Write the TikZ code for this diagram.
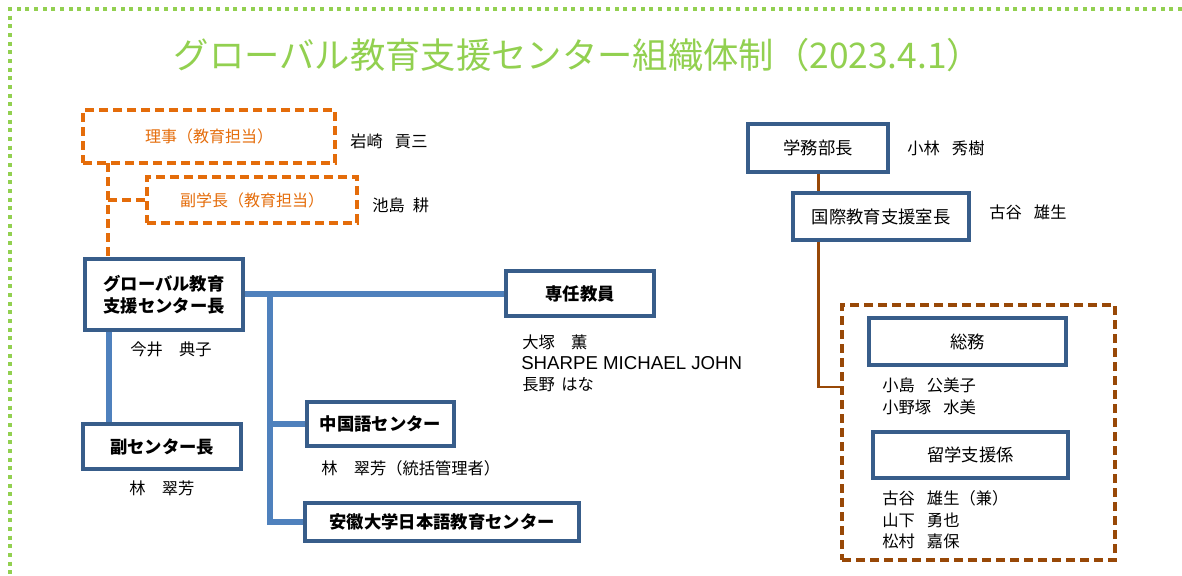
\documentclass[tikz,border=0pt]{standalone}
\usepackage{fontspec}
\setmainfont{Noto Sans CJK JP}
\newfontfamily\latinsans{Liberation Sans}
\definecolor{boxblue}{RGB}{56,93,138}
\definecolor{lineblue}{RGB}{79,129,189}
\definecolor{orng}{RGB}{228,108,10}
\definecolor{brwn}{RGB}{152,72,7}
\definecolor{grn}{RGB}{146,208,80}
\newcommand{\gap}{\hspace{0.75em}}
\tikzset{
  box/.style={draw=boxblue, line width=2.4pt, fill=white, inner sep=0pt, align=center, font=\fontsize{13}{16}\selectfont},
  bbox/.style={box, font=\fontsize{13}{16.5}\selectfont\bfseries},
  obox/.style={draw=orng, line width=2.6pt, dash pattern=on 6.5pt off 4pt, text=orng, inner sep=0pt, font=\fontsize{12}{15}\selectfont},
  dbox/.style={draw=brwn, line width=2.6pt, dash pattern=on 6.5pt off 4pt, inner sep=0pt},
  person/.style={anchor=west, inner sep=0pt, font=\fontsize{12.2}{16}\selectfont},
  conn/.style={draw=lineblue, line width=3.8pt},
  oconn/.style={draw=orng, line width=2.3pt, dash pattern=on 6.5pt off 4pt},
  bconn/.style={draw=brwn, line width=2pt},
  frame/.style={draw=grn, line width=3pt, dash pattern=on 3pt off 3.5pt}
}
\begin{document}
\begin{tikzpicture}[x=0.75pt,y=-0.75pt]
\useasboundingbox (0,0) rectangle (1182,575);
% frame
\coordinate (fr1) at (1182,9);
\coordinate (fr2) at (10,9);
\coordinate (fr3) at (10,575);
\draw[frame] (fr1) -- (fr2) -- (fr3);
% title
\node[text=grn, font=\fontsize{26.5}{31}\selectfont, inner sep=0pt] (title) at (578,55) {グローバル教育支援センター組織体制（2023.4.1）};
% orange boxes
\node[obox, minimum width=189pt, minimum height=39.75pt] (riji) at (209,136.5) {理事（教育担当）};
\node[obox, minimum width=157.5pt, minimum height=34.5pt] (fuku) at (252,200) {副学長（教育担当）};
\node[person] (n1) at (350,141) {岩崎\gap 貢三};
\node[person] (n2) at (372,205) {池島\hspace{0.5em}耕};
% main
\node[bbox, minimum width=118.5pt, minimum height=53.25pt] (glob) at (164,294.5) {グローバル教育\\支援センター長};
\node[person] (n3) at (130,349) {今井　典子};
\node[bbox, minimum width=118.5pt, minimum height=33.75pt] (fukuc) at (162,446.5) {副センター長};
\node[person] (n4) at (129,488) {林　翠芳};
\node[bbox, minimum width=111pt, minimum height=33.75pt] (senin) at (580,293.5) {専任教員};
\node[person] (n5) at (522,342) {大塚　薫};
\node[person, font=\fontsize{14}{16}\latinsans] (n6) at (521,363) {SHARPE MICHAEL JOHN};
\node[person] (n7) at (522,385) {長野\hspace{0.4em}はな};
\node[bbox, minimum width=110.25pt, minimum height=33pt] (chu) at (380.5,424) {中国語センター};
\node[person] (n8) at (321,468) {林　翠芳（統括管理者）};
\node[bbox, minimum width=205.5pt, minimum height=28.5pt] (anki) at (442,522) {安徽大学日本語教育センター};
% right side
\node[box, minimum width=105pt, minimum height=36pt] (gakumu) at (818,148) {学務部長};
\node[person] (n9) at (907,148) {小林\gap 秀樹};
\node[box, minimum width=132pt, minimum height=35.25pt] (kokusai) at (881,216.5) {国際教育支援室長};
\node[person] (n10) at (989,212) {古谷\gap 雄生};
\node[dbox, minimum width=204.75pt, minimum height=191.25pt] (group) at (978.5,432.5) {};
\node[box, minimum width=147.75pt, minimum height=35.25pt] (somu) at (967.5,341.5) {総務};
\node[person] (n11) at (882,385) {小島\gap 公美子};
\node[person] (n12) at (882,407) {小野塚\gap 水美};
\node[box, minimum width=146.25pt, minimum height=34.5pt] (ryugaku) at (970.5,455) {留学支援係};
\node[person] (n13) at (882,498) {古谷\gap 雄生（兼）};
\node[person] (n14) at (882,520) {山下\gap 勇也};
\node[person] (n15) at (882,541) {松村\gap 嘉保};
% connectors
\coordinate (oa) at (108,163);
\draw[oconn] (oa) -- (oa |- glob.north);
\draw[oconn] (fuku.west -| oa) -- (fuku.west);
\coordinate (jx) at (270,294);
\draw[conn] (glob.east |- jx) -- (senin.west |- jx);
\draw[conn] (jx) -- (jx |- anki.west) -- (anki.west);
\draw[conn] (jx |- chu.west) -- (chu.west);
\coordinate (gx) at (109,330);
\draw[conn] (glob.south -| gx) -- (fukuc.north -| gx);
\coordinate (bx) at (818.5,387);
\draw[bconn] (gakumu.south -| bx) -- (kokusai.north -| bx);
\draw[bconn] (kokusai.south -| bx) -- (bx) -- (bx -| group.west);
\end{tikzpicture}
\end{document}
